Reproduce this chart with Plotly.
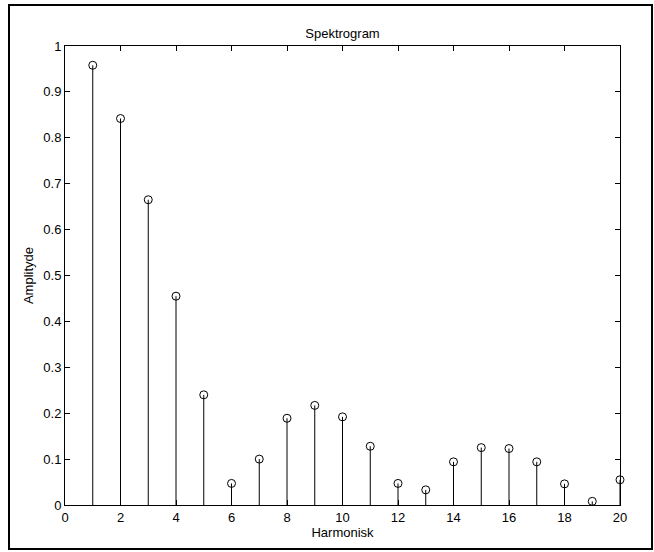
import plotly.graph_objects as go

harmonics = list(range(1, 21))
amplitude = [0.958, 0.842, 0.665, 0.455, 0.240, 0.047, 0.100, 0.189, 0.217, 0.192,
             0.128, 0.047, 0.033, 0.094, 0.125, 0.123, 0.094, 0.046, 0.008, 0.055]
title_text = "Spektrogram"
xlabel = "Harmonisk"
ylabel = "Amplityde"

W, H = 654, 552
L, R, T, B = 65, 34, 46, 47
pw, ph = W - L - R, H - T - B

stem_x, stem_y = [], []
for h, a in zip(harmonics, amplitude):
    stem_x += [h, h, None]
    stem_y += [0, a, None]

font = dict(family="Liberation Sans, Arial, Helvetica, sans-serif", size=13, color="black")

fig = go.Figure()
fig.add_trace(go.Scatter(x=stem_x, y=stem_y, mode="lines",
                         line=dict(color="black", width=1), hoverinfo="skip",
                         showlegend=False, cliponaxis=False))
fig.add_trace(go.Scatter(x=harmonics, y=amplitude, mode="markers",
                         marker=dict(symbol="circle-open", size=8, color="black",
                                     line=dict(width=1, color="black")),
                         showlegend=False, cliponaxis=False))

axis_common = dict(showline=True, linecolor="black", linewidth=1, mirror="ticks",
                   ticks="inside", ticklen=5, tickcolor="black", tickwidth=1,
                   showgrid=False, zeroline=False, tickfont=font)


def px_x(p):
    return (p - L) / pw


def px_y(p):
    return (H - B - p) / ph


fig.update_layout(
    width=W, height=H,
    margin=dict(l=L, r=R, t=T, b=B, autoexpand=False),
    paper_bgcolor="white", plot_bgcolor="white",
    font=font,
    title=dict(text=title_text, x=(L + pw / 2) / W, xref="container",
               y=1 - 33 / H, yref="container", xanchor="center", yanchor="middle",
               font=font),
    xaxis=dict(range=[0, 20], dtick=2, tick0=0,
               title=dict(text=xlabel, font=font, standoff=2), **axis_common),
    yaxis=dict(range=[0, 1], dtick=0.1, tick0=0,
               title=dict(text=ylabel, font=font, standoff=6), **axis_common),
    shapes=[
        dict(type="rect", xref="paper", yref="paper",
             x0=px_x(9), x1=px_x(652), y0=px_y(549), y1=px_y(5),
             line=dict(color="black", width=2), fillcolor="rgba(0,0,0,0)", layer="below"),
    ],
)

fig.write_html("out.html")
